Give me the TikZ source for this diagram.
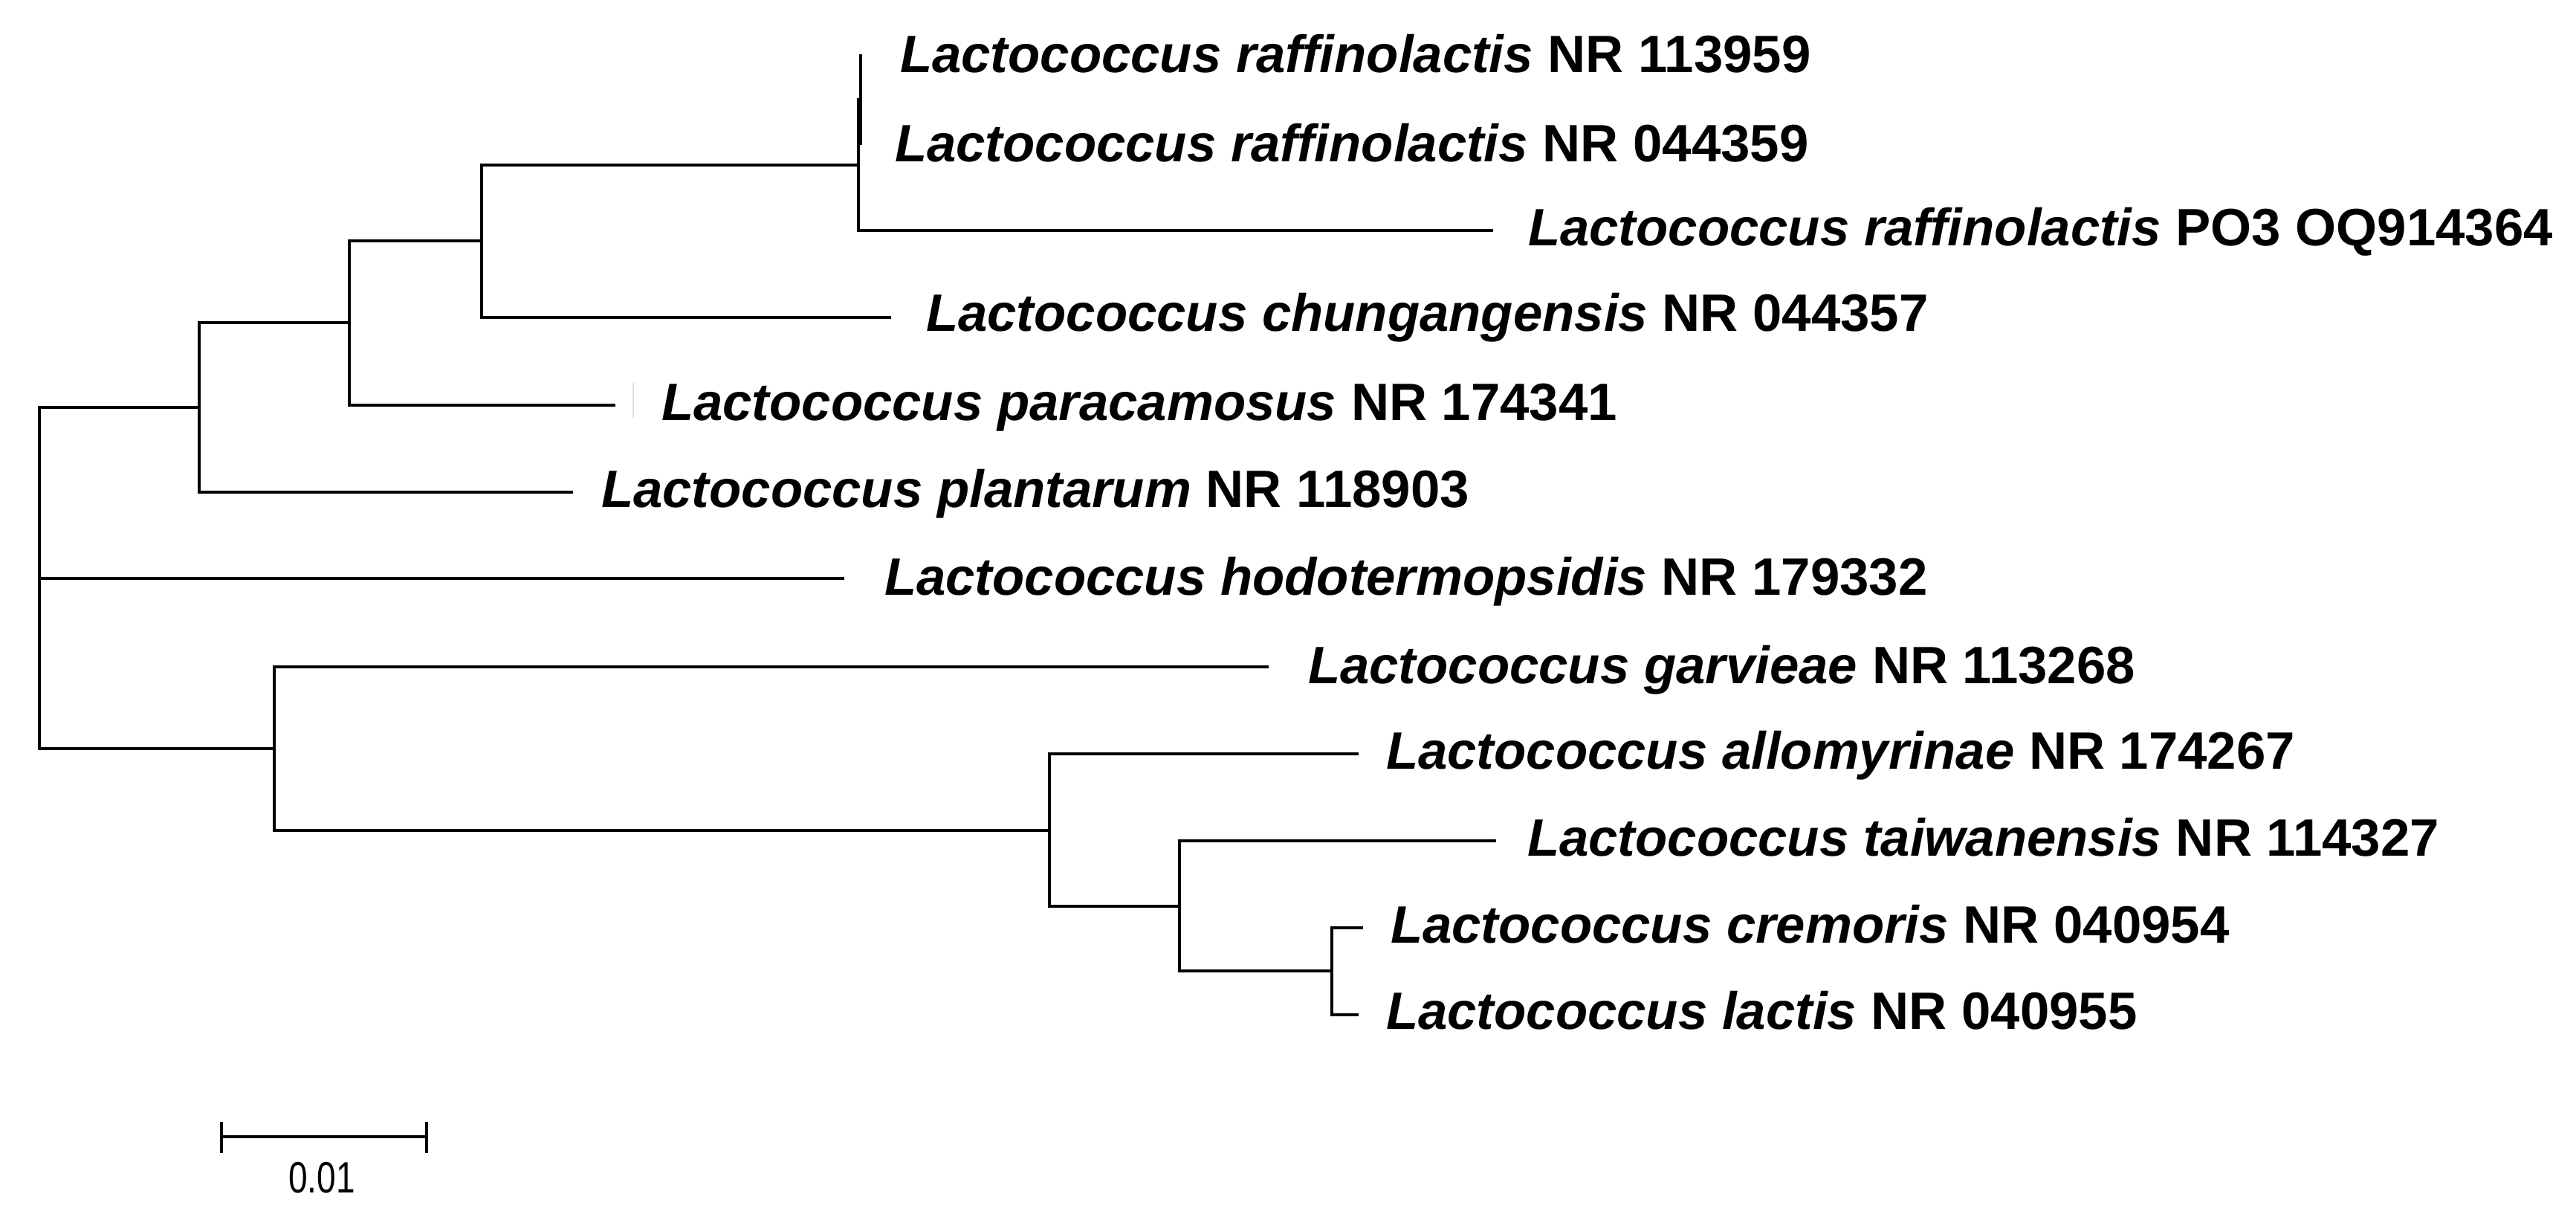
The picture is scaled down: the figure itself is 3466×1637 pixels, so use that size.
\documentclass[tikz,border=0pt]{standalone}
\usepackage{fontspec}
\setmainfont{Liberation Sans}
\newfontfamily\scalebarfont[FakeStretch=0.78]{Liberation Sans}
\begin{document}
\begin{tikzpicture}[x=0.2pt, y=-0.2pt,
  br/.style={line width=0.9pt, line join=miter},
  lab/.style={anchor=base west, inner sep=0pt, outer sep=0pt, font=\fontsize{14.15}{16}\selectfont\bfseries},
  sclab/.style={anchor=base, inner sep=0pt, font=\fontsize{11.8}{13}\selectfont\scalebarfont}]
\useasboundingbox (0,0) rectangle (3466,1637);
% internal nodes
\coordinate (root) at (53,778);
\coordinate (A) at (268,548);
\coordinate (B) at (470,434);
\coordinate (C) at (648,324);
\coordinate (D) at (1155,222);
\coordinate (D2) at (1158,134);
\coordinate (E) at (369,1007);
\coordinate (F) at (1412,1117);
\coordinate (G) at (1587,1219);
\coordinate (H) at (1792,1306);
% leaf ends
\coordinate (l1) at (1158,73);
\coordinate (l2) at (1158,195);
\coordinate (l3) at (2009,310);
\coordinate (l4) at (1199,427);
\coordinate (l5) at (828,545);
\coordinate (l6) at (771,662);
\coordinate (l7) at (1136,778);
\coordinate (l8) at (1707,897);
\coordinate (l9) at (1828,1014);
\coordinate (l10) at (2013,1131);
\coordinate (l11) at (1834,1248);
\coordinate (l12) at (1828,1365);
% branches
\draw[br] (root) |- (A);
\draw[br] (root) -- (l7);
\draw[br] (root) |- (E);
\draw[br] (A) |- (B);
\draw[br] (A) |- (l6);
\draw[br] (B) |- (C);
\draw[br] (B) |- (l5);
\draw[br] (C) |- (D);
\draw[br] (C) |- (l4);
\draw[br] (D) |- (D2);
\draw[br] (D) |- (l3);
\draw[br] (D2) -- (l1);
\draw[br] (D2) -- (l2);
\draw[br] (E) |- (l8);
\draw[br] (E) |- (F);
\draw[br] (F) |- (l9);
\draw[br] (F) |- (G);
\draw[br] (G) |- (l10);
\draw[br] (G) |- (H);
\draw[br] (H) |- (l11);
\draw[br] (H) |- (l12);
% faint mark near paracamosus
\draw[gray!25, line width=0.3pt] (852,515) -- (852,562);
% labels
\node[lab] (t1) at (1211,98) {\textit{Lactococcus raffinolactis} NR 113959};
\node[lab] (t2) at (1204,218) {\textit{Lactococcus raffinolactis} NR 044359};
\node[lab] (t3) at (2056,331) {\textit{Lactococcus raffinolactis} PO3 OQ914364};
\node[lab] (t4) at (1246,446) {\textit{Lactococcus chungangensis} NR 044357};
\node[lab] (t5) at (890,566) {\textit{Lactococcus paracamosus} NR 174341};
\node[lab] (t6) at (809,683) {\textit{Lactococcus plantarum} NR 118903};
\node[lab] (t7) at (1190,800) {\textit{Lactococcus hodotermopsidis} NR 179332};
\node[lab] (t8) at (1760,919) {\textit{Lactococcus garvieae} NR 113268};
\node[lab] (t9) at (1865,1034) {\textit{Lactococcus allomyrinae} NR 174267};
\node[lab] (t10) at (2055,1151) {\textit{Lactococcus taiwanensis} NR 114327};
\node[lab] (t11) at (1871,1268) {\textit{Lactococcus cremoris} NR 040954};
\node[lab] (t12) at (1865,1384) {\textit{Lactococcus lactis} NR 040955};
% scale bar
\coordinate (s1) at (298,1529);
\coordinate (s2) at (574,1529);
\draw[br] (s1) -- (s2);
\draw[br] ([yshift=20*0.2pt]s1) -- ([yshift=-22*0.2pt]s1);
\draw[br] ([yshift=20*0.2pt]s2) -- ([yshift=-22*0.2pt]s2);
\node[sclab] (sl) at (433,1604) {0.01};
\end{tikzpicture}
\end{document}
